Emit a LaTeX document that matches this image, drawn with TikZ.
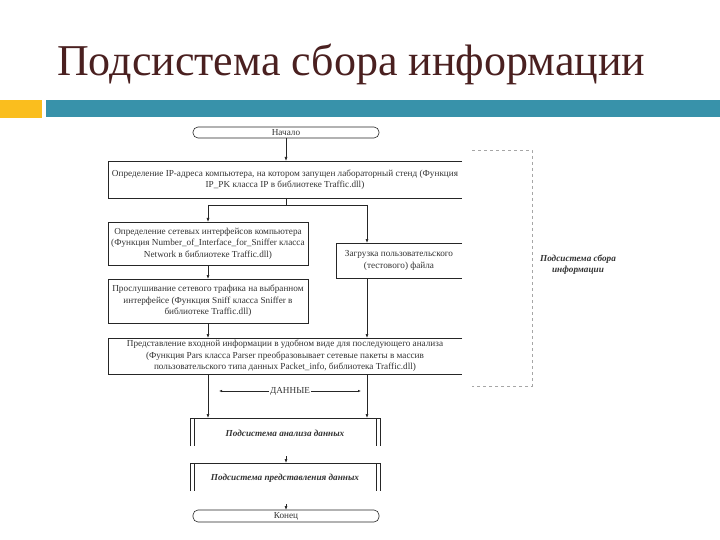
\documentclass[tikz,border=0pt]{standalone}
\usepackage{fontspec}
\setmainfont{Liberation Serif}
\usetikzlibrary{arrows.meta}
\definecolor{titlec}{RGB}{74,32,32}
\definecolor{barc}{RGB}{56,146,170}
\definecolor{sqc}{RGB}{250,190,30}
\begin{document}
\begin{tikzpicture}[x=1pt,y=-1pt,
  ln/.style={line width=0.6pt,black!85},
  arr/.style={ln,-{Latex[length=4pt,width=3pt]}},
  txt/.style={font=\fontsize{9.2}{11.5}\selectfont,align=center,text=black!80},
  btxt/.style={font=\fontsize{9.2}{11}\selectfont\bfseries\itshape,align=center,text=black!80}]
\useasboundingbox (0,0) rectangle (720,540);
\fill[white] (0,0) rectangle (720,540);
\node[anchor=base west,font=\fontsize{44}{46}\selectfont,text=titlec,inner sep=0pt] (title) at (57,76) {Подсистема сбора информации};
\fill[sqc] (0,100) rectangle (42,118);
\fill[barc] (46,100) rectangle (720,117);
% start
\draw[ln,rounded corners=5pt] (193,127) rectangle (379,138);
\node[txt] (start) at (286,132.5) {Начало};
% box1
\draw[ln] (462,161) -- (108,161) -- (108,198) -- (462,198);
\node[txt] (b1) at (285,179.5) {Определение IP-адреса компьютера, на котором запущен лабораторный стенд (Функция\\IP\_PK класса IP в библиотеке Traffic.dll)};
\draw[arr] (286,138) -- (286,161);
% split
\coordinate (s0) at (286,198);
\coordinate (sl) at (208,205);
\coordinate (sr) at (367,205);
\draw[ln] (s0) -- (286,205);
\draw[ln] (sl) -- (sr);
% box2
\draw[ln] (108,222) rectangle (308,265);
\node[txt] (b2) at (208,243.5) {Определение сетевых интерфейсов компьютера\\(Функция Number\_of\_Interface\_for\_Sniffer класса\\Network в библиотеке Traffic.dll)};
\draw[arr] (sl) -- (208,222);
% box3
\draw[ln] (462,243) -- (336,243) -- (336,278) -- (462,278);
\node[txt] (b3) at (399,260.5) {Загрузка пользовательского\\(тестового) файла};
\draw[arr] (sr) -- (367,243);
% box4
\draw[ln] (108,279) rectangle (308,323);
\node[txt] (b4) at (208,301) {Прослушивание сетевого трафика на выбранном\\интерфейсе (Функция Sniff класса Sniffer в\\библиотеке Traffic.dll)};
\draw[arr] (208,265) -- (208,279);
% box5
\draw[ln] (462,338) -- (108,338) -- (108,374) -- (462,374);
\node[txt] (b5) at (285,356) {Представление входной информации в удобном виде для последующего анализа\\(Функция Pars класса Parser преобразовывает сетевые пакеты в массив\\пользовательского типа данных Packet\_info, библиотека Traffic.dll)};
\draw[arr] (208,323) -- (208,338);
\draw[arr] (367,278) -- (367,338);
% data
\draw[arr] (208,374) -- (208,418);
\draw[arr] (367,374) -- (367,418);
\node[txt,fill=white,inner sep=1pt] (data) at (290,391) {ДАННЫЕ};
\draw[ln,{Latex[length=3pt,width=2.5pt]}-] (219,391) -- (data.west);
\draw[ln,-{Latex[length=3pt,width=2.5pt]}] (data.east) -- (361,391);
% box6
\draw[ln] (190,446) -- (190,418) -- (380,418) -- (380,446);
\draw[ln] (194,418) -- (194,446) (376,418) -- (376,446);
\node[btxt] (b6) at (285,433) {Подсистема анализа данных};
% box7
\draw[arr] (286,456) -- (286,463);
\draw[ln] (190,491) -- (190,463) -- (380,463) -- (380,491);
\draw[ln] (194,463) -- (194,491) (376,463) -- (376,491);
\node[btxt] (b7) at (285,478) {Подсистема представления данных};
% end
\draw[arr] (286,504) -- (286,510);
\draw[ln,rounded corners=5pt] (193,510) rectangle (379,522);
\node[txt] (end) at (286,516) {Конец};
% dashed bracket
\draw[black!35,dashed,line width=0.5pt] (472,150) -- (532,150) -- (532,386) -- (472,386);
\node[btxt] (lab) at (578,265) {Подсистема сбора\\информации};
\end{tikzpicture}
\end{document}
